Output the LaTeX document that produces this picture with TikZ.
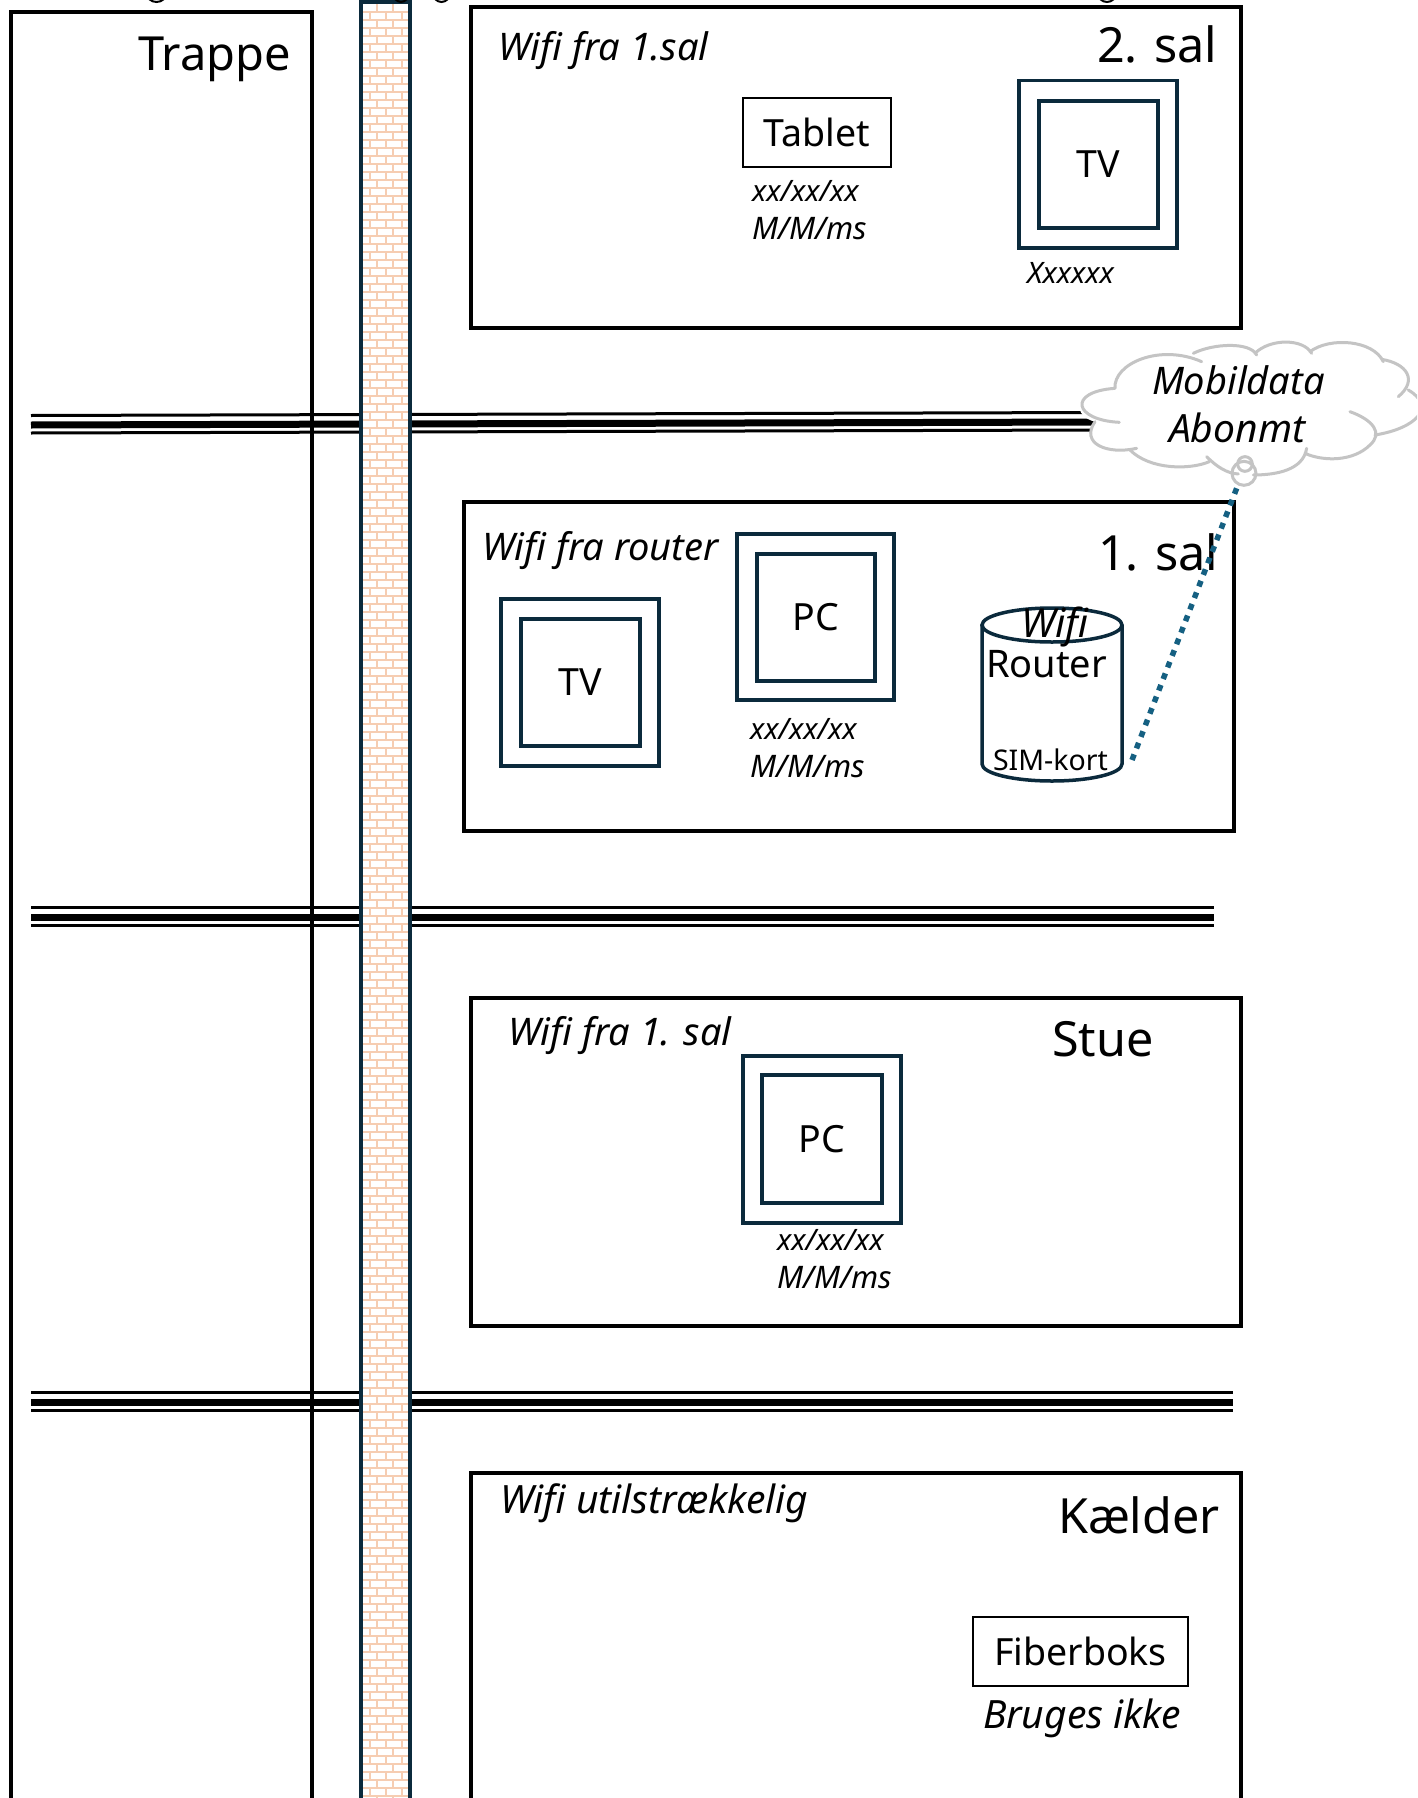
\documentclass[tikz,border=0pt]{standalone}
\usepackage{fontspec}
\setmainfont{Noto Sans}
\definecolor{framec}{HTML}{0B2A3C}
\definecolor{brick}{HTML}{F6CDB2}
\definecolor{dots}{HTML}{156082}
\definecolor{cloudc}{HTML}{C4C4C4}
\tikzset{
  x=1pt,y=-1pt,
  room/.style={draw=black,line width=3.5pt,fill=none},
  slab/.style={draw=black,line cap=butt},
  frm/.style={draw=framec,line width=3.5pt},
  plain/.style={draw=black,line width=2pt},
  lab/.style={anchor=base west,inner sep=0pt,outer sep=0pt,text=black},
  big/.style={lab,font=\fontsize{48.5}{48}\selectfont},
  note/.style={lab,font=\fontsize{38}{38}\selectfont\itshape},
  noteb/.style={lab,font=\fontsize{39}{39}\selectfont\itshape},
  small/.style={lab,font=\fontsize{29.5}{29}\selectfont\itshape},
  smallb/.style={lab,font=\fontsize{31}{31}\selectfont\itshape},
  dev/.style={font=\fontsize{37.5}{37}\selectfont,text=black},
}
% name, x1, y1, x2, y2, style, text
\newcommand{\bx}[7]{\node[#6,inner sep=0pt,outer sep=0pt,minimum width={(#4)-(#2)},minimum height={(#5)-(#3)}] (#1) at ({((#2)+(#4))/2},{((#3)+(#5))/2}) {#7};}
\newcommand{\slabs}[5]{% name, y1, x1, y2, x2
  \coordinate (#1a) at (#3,#2);\coordinate (#1b) at (#5,#4);
  \draw[slab,line width=3pt] ([yshift=9.5pt]#1a) -- ([yshift=9.5pt]#1b);
  \draw[slab,line width=7pt] (#1a) -- (#1b);
  \draw[slab,line width=3pt] ([yshift=-8pt]#1a) -- ([yshift=-8pt]#1b);}
\begin{document}
\begin{tikzpicture}
\path[use as bounding box,clip] (0,0) rectangle (1417,1798);
\fill[white] (0,0) rectangle (1417,1798);
% floor slabs
\slabs{sa}{425}{31}{422}{1100}
\slabs{sb}{917}{31}{917}{1214}
\slabs{sc}{1402}{31}{1402}{1233}
% stairs
\bx{trappe}{11}{12}{312}{1840}{room}{}
\node[lab,font=\fontsize{47}{47}\selectfont] (trappetxt) at (138,71) {Trappe};
% wall
\fill[white] (361,2) rectangle (410,1840);
\begin{scope}
\clip (361,2) rectangle (410,1840);
\foreach \r in {0,...,229}{
  \pgfmathsetmacro{\yy}{12+8*\r}
  \draw[brick,line width=1.6pt] (361,\yy) -- (410,\yy);
  \pgfmathsetmacro{\off}{mod(\r,2)==0 ? 370 : 361}
  \foreach \k in {0,1,2,3}{
    \draw[brick,line width=1.6pt] ({\off+16*\k},\yy) -- ({\off+16*\k},\yy+8);
  }
}
\draw[brick,line width=1.6pt] (377,4) -- (377,12) (393,4) -- (393,12);
\end{scope}
\bx{wall}{361}{2}{410}{1840}{frm}{}
% clipped descenders along the top edge
\draw[black,line width=2pt] (149,-1) .. controls (153,3) and (160,3) .. (164,-1);
\draw[black,line width=2pt] (395,-1) .. controls (399,3) and (403,3) .. (407,-1);
\draw[black,line width=2pt] (435,-1) .. controls (439,3) and (444,3) .. (448,-1);
\draw[black,line width=2pt] (1100,-1) .. controls (1104,3) and (1110,3) .. (1114,-1);
% 2. sal
\bx{r2}{471}{7}{1241}{328}{room}{}
\node[big] (r2t) at (1097,63) {2. sal};
\node[note] (r2w) at (498,61) {Wifi fra 1.sal};
\bx{tablet}{743}{98.5}{891}{167}{plain,dev}{Tablet}
\node[small] (r2x1) at (752,201) {xx/xx/xx};
\node[smallb] (r2x2) at (752,239) {M/M/ms};
\bx{tv2o}{1019}{80.5}{1177}{248}{frm}{}
\bx{tv2i}{1039}{101}{1158}{228}{frm,dev}{TV}
\node[small] (r2x3) at (1027,283) {Xxxxxx};
% 1. sal
\bx{r1}{464}{502}{1234}{831}{room}{}
\node[big] (r1t) at (1098,570) {1. sal};
\node[note] (r1w) at (482,560) {Wifi fra router};
\bx{tv1o}{501}{599}{659}{766}{frm}{}
\bx{tv1i}{521}{619}{640}{746}{frm,dev}{TV}
\bx{pc1o}{737}{534}{894}{700}{frm}{}
\bx{pc1i}{757}{554}{875}{681}{frm,dev}{PC}
\node[small] (r1x1) at (750,739) {xx/xx/xx};
\node[smallb] (r1x2) at (750,777) {M/M/ms};
% router
\draw[draw=framec,line width=3.5pt] (982,625) -- (982,764) arc[start angle=180,end angle=0,x radius=70,y radius=17] -- (1122,625);
\draw[draw=framec,line width=3.5pt] (1052,625) ellipse[x radius=70,y radius=17];
\node[lab,font=\fontsize{40}{40}\selectfont\itshape] (rw) at (1021,637) {Wifi};
\node[lab,font=\fontsize{38}{38}\selectfont] (rr) at (986,677) {Router};
\node[lab,font=\fontsize{28.5}{28}\selectfont] (rs) at (993,770) {SIM-kort};
\coordinate (routerport) at (1132,760);
% Stue
\bx{r0}{471}{998}{1241}{1326}{room}{}
\node[big] (r0t) at (1052,1056) {Stue};
\node[note] (r0w) at (508,1045) {Wifi fra 1. sal};
\bx{pc0o}{743}{1056}{901}{1223}{frm}{}
\bx{pc0i}{762}{1075}{882}{1203}{frm,dev}{PC}
\node[small] (r0x1) at (777,1250) {xx/xx/xx};
\node[smallb] (r0x2) at (777,1288) {M/M/ms};
% Kaelder
\bx{rk}{471}{1473}{1241}{1840}{room}{}
\node[big] (rkt) at (1058,1533) {Kælder};
\node[noteb] (rkw) at (500,1513) {Wifi utilstrækkelig};
\bx{fiber}{973}{1617}{1188}{1686}{plain,dev}{Fiberboks}
\node[noteb] (fb) at (983,1728) {Bruges ikke};
% cloud
\begin{scope}[shift={(960,320)},x=0.3333pt,y=-0.3333pt]
\fill[white] (465,205) .. controls (460,130) and (600,70) .. (725,125)
 .. controls (760,70) and (870,65) .. (890,105)
 .. controls (930,55) and (1030,55) .. (1055,100)
 .. controls (1110,50) and (1240,60) .. (1270,125)
 .. controls (1340,130) and (1375,180) .. (1345,210)
 .. controls (1430,260) and (1370,325) .. (1245,345)
 .. controls (1230,410) and (1100,440) .. (1035,400)
 .. controls (1010,460) and (930,470) .. (880,465)
 .. controls (830,470) and (780,450) .. (745,425)
 .. controls (690,450) and (570,450) .. (510,390)
 .. controls (440,405) and (360,370) .. (405,305)
 .. controls (340,290) and (330,215) .. (465,205) -- cycle;
\draw[cloudc,line width=3pt,line cap=round]
    (465,205) .. controls (460,130) and (600,70) .. (725,125)
    (700,100) .. controls (760,70) and (870,65) .. (890,105)
    (885,100) .. controls (930,55) and (1030,55) .. (1055,100)
    (1050,95) .. controls (1110,50) and (1240,60) .. (1270,125)
    (1265,118) .. controls (1340,130) and (1375,180) .. (1315,230)
    (1345,210) .. controls (1430,260) and (1370,325) .. (1245,345)
    (1170,275) .. controls (1240,300) and (1270,340) .. (1230,375)
               .. controls (1180,425) and (1090,425) .. (1035,400)
    (1040,385) .. controls (1030,450) and (950,465) .. (880,465)
    (740,410) .. controls (770,440) and (800,460) .. (835,462)
    (748,425) .. controls (690,450) and (570,450) .. (510,390)
    (530,385) .. controls (440,405) and (360,370) .. (405,305)
    (478,307) .. controls (340,300) and (322,215) .. (465,205);
\draw[cloudc,line width=3pt] (852,460) circle[radius=36];
\draw[cloudc,line width=3pt] (855,432) circle[radius=22];
\coordinate (cloudtail) at (830,505);
\end{scope}
\node[note] (cl1) at (1152,394) {Mobildata};
\node[noteb] (cl2) at (1169,442) {Abonmt};
\draw[draw=dots,line width=5.5pt,dash pattern=on 6pt off 6.4pt] (routerport) -- (cloudtail);
\end{tikzpicture}
\end{document}
